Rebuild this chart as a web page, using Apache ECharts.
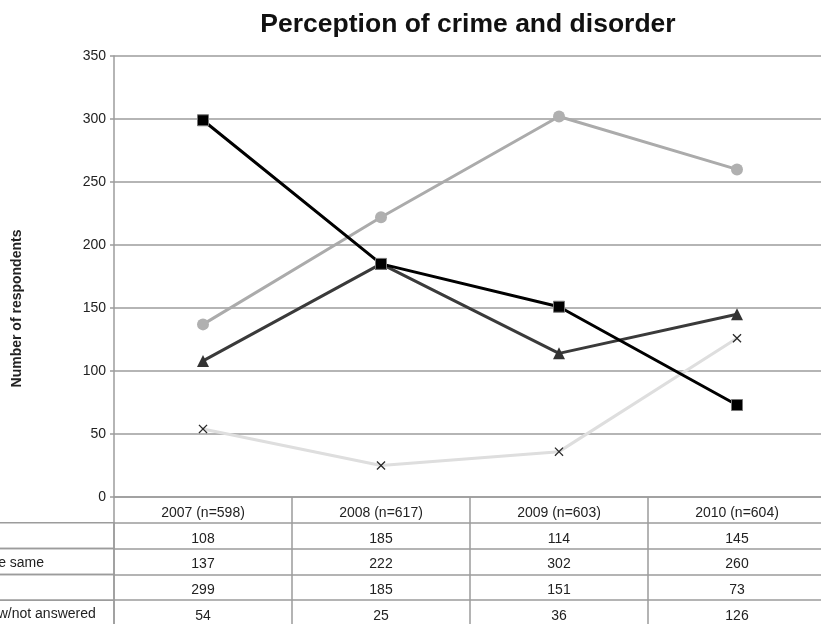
<!DOCTYPE html>
<html>
<head>
<meta charset="utf-8">
<script src="https://cdn.jsdelivr.net/npm/echarts@6/dist/echarts.min.js"></script>
<style>
  html, body { margin: 0; padding: 0; background: #fff; }
  #main { width: 821px; height: 624px; }
</style>
</head>
<body>
<div id="main"></div>
<script>
const categories = ['2007 (n=598)', '2008 (n=617)', '2009 (n=603)', '2010 (n=604)'];
const rowNames = ['Increased', 'Stayed the same', 'Reduced', "Don't know/not answered"];
const increased = [108, 185, 114, 145];
const stayedSame = [137, 222, 302, 260];
const reduced = [299, 185, 151, 73];
const dontKnow = [54, 25, 36, 126];
const rows = [increased, stayedSame, reduced, dontKnow];

const font = "'Liberation Sans', Arial, sans-serif";
const lineGray = '#9c9c9c';
const rowH = 25.8;
const labelCell = 179;   // width of the row-label cell left of the plot

// measure text so the label cell box reaches the y axis
const ctx = document.createElement('canvas').getContext('2d');
ctx.font = "14px 'Liberation Sans', Arial, sans-serif";

const chart = echarts.init(document.getElementById('main'));

// header axis + one axis per table row, stacked under the plot
const xAxes = [{
    type: 'category',
    data: categories,
    position: 'bottom',
    axisLine: { lineStyle: { color: lineGray, width: 1.5 } },
    axisTick: { show: true, length: rowH, interval: 0, lineStyle: { color: lineGray, width: 1.5 } },
    axisLabel: { interval: 0, margin: 9, color: '#222', fontSize: 14, fontFamily: font }
}];
rows.forEach((vals, k) => {
    const w = ctx.measureText(rowNames[k]).width;
    xAxes.push({
        type: 'category',
        data: categories,
        position: 'bottom',
        offset: rowH * (k + 1),
        name: rowNames[k],
        nameLocation: 'start',
        nameGap: labelCell,
        nameTextStyle: {
            align: 'left', verticalAlign: 'top',
            lineHeight: rowH - 3,
            padding: [3, labelCell - 4 - w, 0, 4],
            borderColor: lineGray, borderWidth: 1.5,
            color: '#222', fontSize: 14, fontFamily: font
        },
        axisLine: { lineStyle: { color: lineGray, width: 1.5 } },
        axisTick: { show: true, length: rowH, interval: 0, lineStyle: { color: lineGray, width: 1.5 } },
        axisLabel: {
            interval: 0, margin: 9, color: '#222', fontSize: 14, fontFamily: font,
            formatter: (v, i) => String(vals[i])
        }
    });
});

const crossPath = 'path://M0,1L1,0L5,4L9,0L10,1L6,5L10,9L9,10L5,6L1,10L0,9L4,5Z';

const option = {
    animation: false,
    backgroundColor: '#fff',
    title: {
        text: 'Perception of crime and disorder',
        left: 463,
        textAlign: 'center',
        top: 6,
        textStyle: { fontSize: 26.5, fontWeight: 'bold', color: '#111', fontFamily: font }
    },
    grid: { left: 114, right: -5, top: 56, bottom: 127, outerBoundsMode: 'none', containLabel: false },
    xAxis: xAxes,
    yAxis: {
        type: 'value',
        min: 0, max: 350, interval: 50,
        name: 'Number of respondents',
        nameLocation: 'middle',
        nameGap: 90,
        nameTextStyle: { fontSize: 14, fontWeight: 'bold', color: '#222', fontFamily: font, padding: [0, 64, 0, 0] },
        axisLine: { show: true, lineStyle: { color: lineGray, width: 1.5 } },
        axisTick: { show: true, length: 4, lineStyle: { color: lineGray, width: 1.5 } },
        axisLabel: { margin: 8, color: '#222', fontSize: 14, fontFamily: font },
        splitLine: { lineStyle: { color: lineGray, width: 1.5 } }
    },
    series: [
        {
            name: rowNames[0], type: 'line', data: increased,
            symbol: 'triangle', symbolSize: 12,
            lineStyle: { color: '#3a3a3a', width: 3 },
            itemStyle: { color: '#333' }
        },
        {
            name: rowNames[1], type: 'line', data: stayedSame,
            symbol: 'circle', symbolSize: 12,
            lineStyle: { color: '#ababab', width: 3 },
            itemStyle: { color: '#b0b0b0' }
        },
        {
            name: rowNames[3], type: 'line', data: dontKnow,
            symbol: crossPath, symbolSize: 9,
            lineStyle: { color: '#dedede', width: 3 },
            itemStyle: { color: '#2a2a2a' }
        },
        {
            name: rowNames[2], type: 'line', data: reduced,
            symbol: 'rect', symbolSize: 11,
            lineStyle: { color: '#000', width: 3 },
            itemStyle: { color: '#000', borderColor: '#777', borderWidth: 1 }
        }
    ]
};
chart.setOption(option);
</script>
</body>
</html>
